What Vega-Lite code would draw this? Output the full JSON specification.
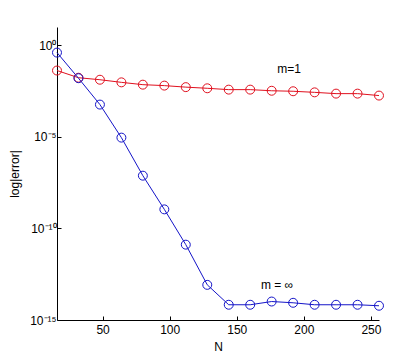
{
  "$schema": "https://vega.github.io/schema/vega-lite/v6.json",
  "autosize": {"type": "none"},
  "padding": {"left": 57, "top": 27, "right": 40, "bottom": 40},
  "width": 322,
  "height": 293,
  "background": "white",
  "config": {
    "view": {"stroke": null},
    "font": "Liberation Sans",
    "axis": {
      "domainColor": "black",
      "tickColor": "black",
      "labelColor": "black",
      "titleColor": "black",
      "labelFont": "Liberation Sans",
      "titleFont": "Liberation Sans",
      "labelFontSize": 12,
      "titleFontSize": 12,
      "titleFontWeight": "normal",
      "grid": false,
      "tickSize": -4
    }
  },
  "datasets": {
    "series": [
      {"N": 16, "err": 0.042, "m": "m=1"},
      {"N": 32, "err": 0.017, "m": "m=1"},
      {"N": 48, "err": 0.0132, "m": "m=1"},
      {"N": 64, "err": 0.0095, "m": "m=1"},
      {"N": 80, "err": 0.0071, "m": "m=1"},
      {"N": 96, "err": 0.0063, "m": "m=1"},
      {"N": 112, "err": 0.0052, "m": "m=1"},
      {"N": 128, "err": 0.0045, "m": "m=1"},
      {"N": 144, "err": 0.0038, "m": "m=1"},
      {"N": 160, "err": 0.0038, "m": "m=1"},
      {"N": 176, "err": 0.0033, "m": "m=1"},
      {"N": 192, "err": 0.0031, "m": "m=1"},
      {"N": 208, "err": 0.0027, "m": "m=1"},
      {"N": 224, "err": 0.0023, "m": "m=1"},
      {"N": 240, "err": 0.0023, "m": "m=1"},
      {"N": 256, "err": 0.0018, "m": "m=1"},
      {"N": 16, "err": 0.4, "m": "m=inf"},
      {"N": 32, "err": 0.016, "m": "m=inf"},
      {"N": 48, "err": 0.00058, "m": "m=inf"},
      {"N": 64, "err": 9.1e-6, "m": "m=inf"},
      {"N": 80, "err": 7.6e-8, "m": "m=inf"},
      {"N": 96, "err": 1.1e-9, "m": "m=inf"},
      {"N": 112, "err": 1.3e-11, "m": "m=inf"},
      {"N": 128, "err": 8.3e-14, "m": "m=inf"},
      {"N": 144, "err": 6.8e-15, "m": "m=inf"},
      {"N": 160, "err": 6.8e-15, "m": "m=inf"},
      {"N": 176, "err": 1.02e-14, "m": "m=inf"},
      {"N": 192, "err": 8.7e-15, "m": "m=inf"},
      {"N": 208, "err": 6.8e-15, "m": "m=inf"},
      {"N": 224, "err": 6.8e-15, "m": "m=inf"},
      {"N": 240, "err": 6.8e-15, "m": "m=inf"},
      {"N": 256, "err": 6.0e-15, "m": "m=inf"}
    ],
    "labels": [
      {"N": 189, "err": 0.049, "text": "m=1"},
      {"N": 180, "err": 8e-14, "text": "m = ∞"}
    ]
  },
  "layer": [
    {
      "data": {"name": "series"},
      "mark": {"type": "line", "strokeWidth": 1, "point": {"filled": false, "size": 80, "strokeWidth": 1}},
      "encoding": {
        "x": {
          "field": "N", "type": "quantitative",
          "scale": {"domain": [16, 256], "nice": false, "zero": false},
          "axis": {"values": [50, 100, 150, 200, 250], "title": "N", "titlePadding": 6, "labelPadding": 8}
        },
        "y": {
          "field": "err", "type": "quantitative",
          "scale": {"type": "log", "domain": [1e-15, 10], "nice": false},
          "axis": {
            "values": [1e-15, 1e-10, 1e-5, 1],
            "title": "log|error|",
            "labelExpr": "datum.value >= 0.5 ? '10⁰' : datum.value > 1e-6 ? '10⁻⁵' : datum.value > 1e-11 ? '10⁻¹⁰' : '10⁻¹⁵'",
            "titlePadding": 8,
            "labelPadding": 5
          }
        },
        "color": {
          "field": "m", "type": "nominal",
          "scale": {"domain": ["m=1", "m=inf"], "range": ["#e0101e", "#1414c8"]},
          "legend": null
        }
      }
    },
    {
      "data": {"name": "labels"},
      "mark": {"type": "text", "fontSize": 12, "font": "Liberation Sans", "color": "black"},
      "encoding": {
        "x": {"field": "N", "type": "quantitative"},
        "y": {"field": "err", "type": "quantitative"},
        "text": {"field": "text"}
      }
    }
  ]
}
